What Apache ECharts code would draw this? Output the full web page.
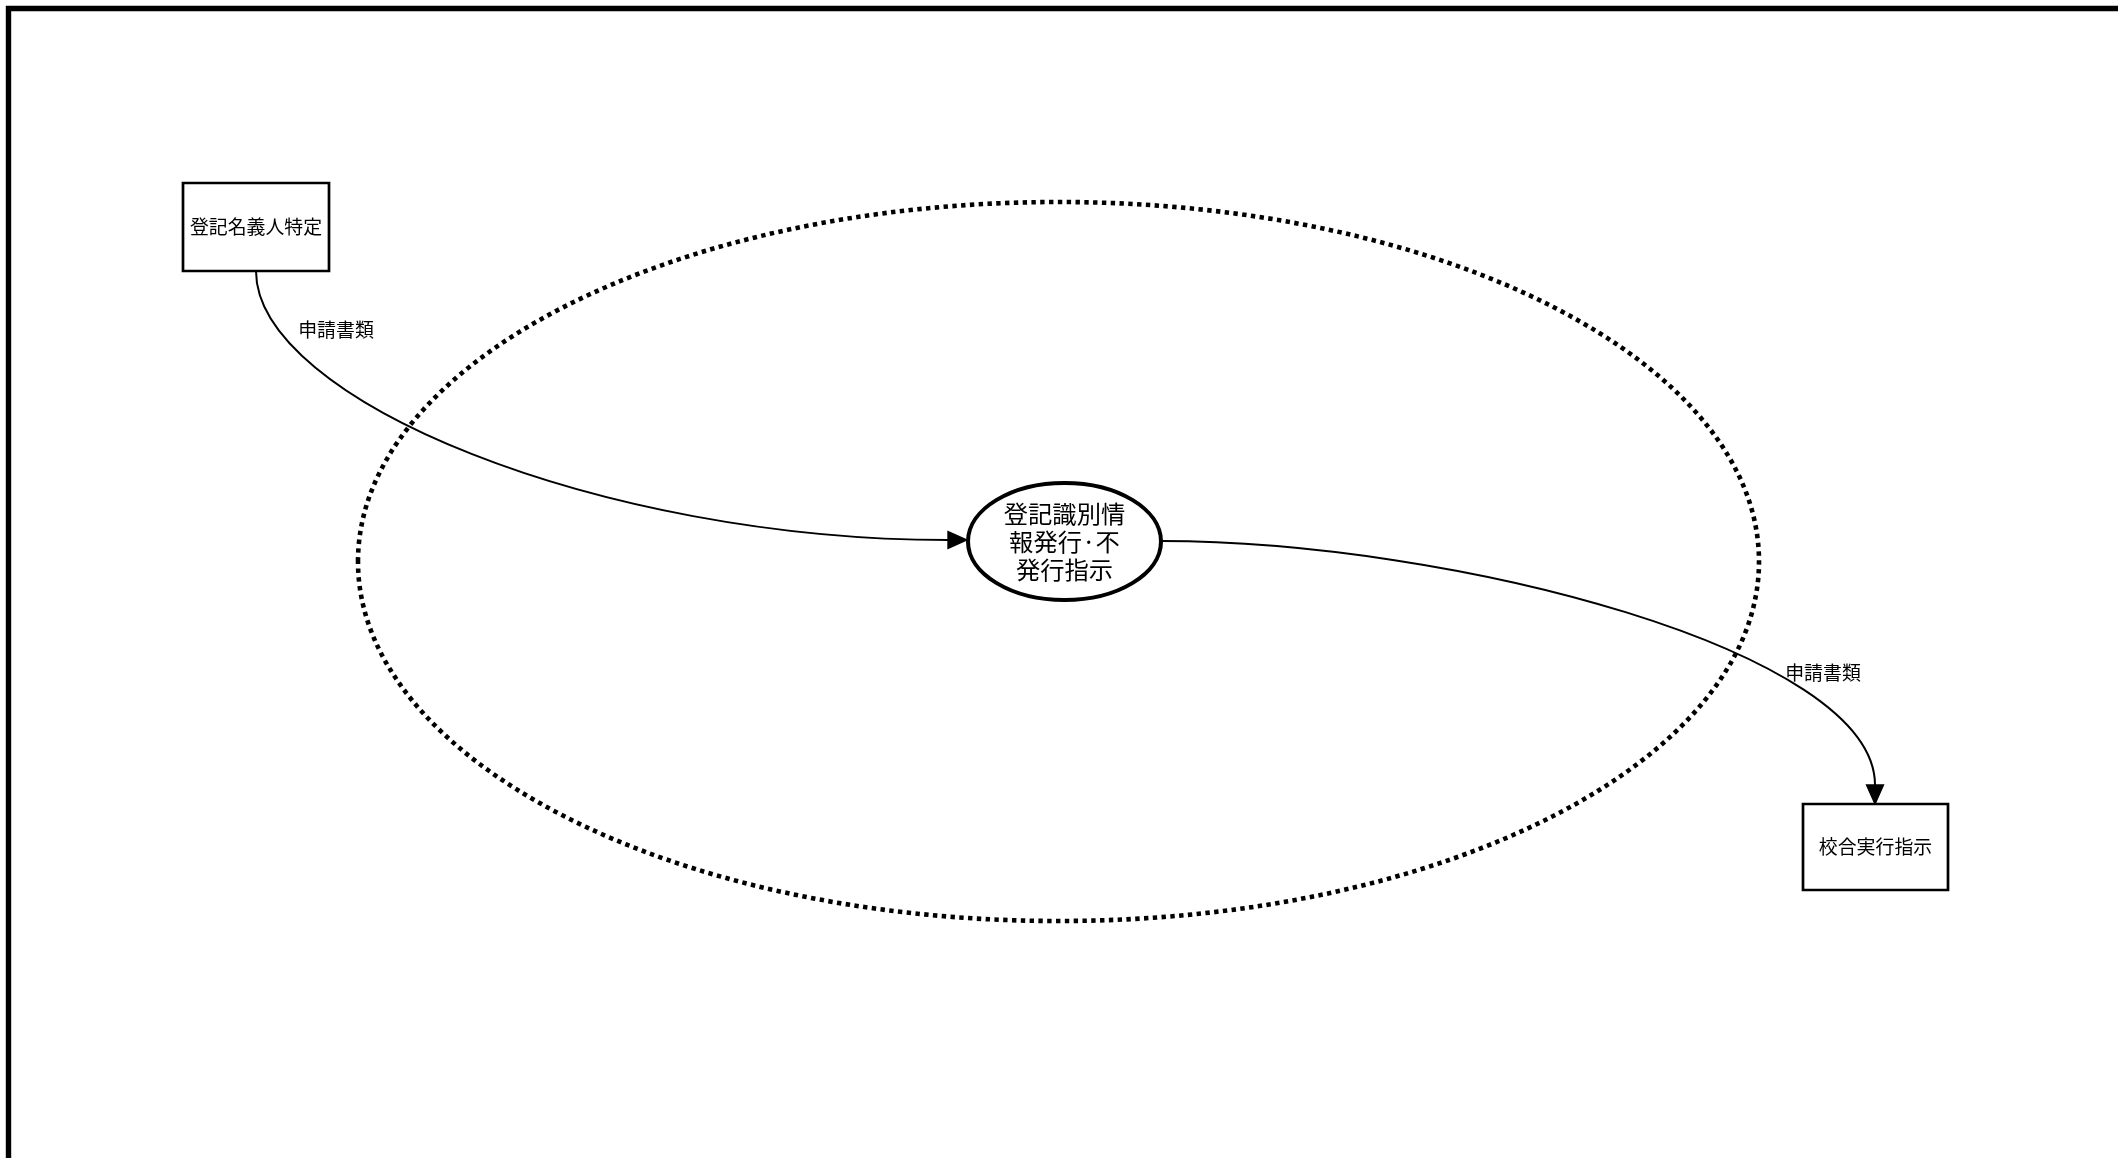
<!DOCTYPE html>
<html>
<head>
<meta charset="utf-8">
<script src="https://cdn.jsdelivr.net/npm/echarts@6/dist/echarts.min.js"></script>
<style>
  html, body { margin: 0; padding: 0; background: #ffffff; }
  #main { width: 2118px; height: 1158px; }
</style>
</head>
<body>
<div id="main"></div>
<script>
// ---- diagram data (diagram-space units, y grows downward) ----
const nodeNames   = ['登記名義人特定', '登記識別情\n報発行·不\n発行指示', '校合実行指示'];
const nodeShapes  = ['rect', 'ellipse', 'rect'];
const nodeCenters = [[256, 227], [1064.5, 541.5], [1875.5, 847]];
const nodeSizes   = [[146, 88], [193, 117], [145, 86]];

const edgeLabels    = ['申請書類', '申請書類'];
// start, control 1, control 2, arrow tip
const edgePaths     = [
  [[256, 271], [256, 400], [600, 540], [967, 540]],
  [[1161, 541], [1450, 541], [1875, 650], [1875, 804]]
];
const edgeLabelAt   = [[336, 330], [1823, 673]];

// dotted boundary ellipse: centre x, centre y, radius x, radius y
const boundaryEllipse = [[1058.5, 561.5, 700.5, 359.5]];
// outer frame: left, top, right, bottom (extends past the page)
const frameRect = [[8.5, 8.5, 2300, 1300]];

const FONT = '"Noto Sans CJK JP", "Noto Sans", sans-serif';

const chart = echarts.init(document.getElementById('main'), null, { renderer: 'canvas' });

function sub(a, b) { return [a[0] - b[0], a[1] - b[1]]; }
function norm(v) { const l = Math.hypot(v[0], v[1]) || 1; return [v[0] / l, v[1] / l]; }

const option = {
  backgroundColor: '#ffffff',
  animation: false,
  grid: { left: 0, right: 0, top: 0, bottom: 0 },
  xAxis: { type: 'value', min: 0, max: 2118, show: false },
  yAxis: { type: 'value', min: 0, max: 1158, inverse: true, show: false },
  series: [
    {
      // frame
      type: 'custom',
      coordinateSystem: 'cartesian2d',
      silent: true,
      data: frameRect.map((r, i) => [i]),
      renderItem: function (params, api) {
        const r = frameRect[api.value(0)];
        const a = api.coord([r[0], r[1]]);
        const b = api.coord([r[2], r[3]]);
        return {
          type: 'rect',
          shape: { x: a[0], y: a[1], width: b[0] - a[0], height: b[1] - a[1] },
          style: { fill: 'none', stroke: '#000', lineWidth: 5.4 }
        };
      }
    },
    {
      // dotted boundary
      type: 'custom',
      coordinateSystem: 'cartesian2d',
      silent: true,
      data: boundaryEllipse.map((e, i) => [i]),
      renderItem: function (params, api) {
        const e = boundaryEllipse[api.value(0)];
        const c = api.coord([e[0], e[1]]);
        const s = api.size([e[2], e[3]]);
        return {
          type: 'ellipse',
          shape: { cx: c[0], cy: c[1], rx: Math.abs(s[0]), ry: Math.abs(s[1]) },
          style: { fill: 'none', stroke: '#000', lineWidth: 4.6, lineDash: [4.4, 4.4], lineCap: 'butt' }
        };
      }
    },
    {
      // edges
      type: 'custom',
      coordinateSystem: 'cartesian2d',
      silent: true,
      data: edgePaths.map((p, i) => [i]),
      renderItem: function (params, api) {
        const i = api.value(0);
        const p = edgePaths[i].map(q => api.coord(q));
        const tip = p[3];
        const dir = norm(sub(p[3], p[2]));
        const len = 19, hw = 8.5;
        const base = [tip[0] - dir[0] * len, tip[1] - dir[1] * len];
        const perp = [-dir[1], dir[0]];
        const lp = api.coord(edgeLabelAt[i]);
        return {
          type: 'group',
          children: [
            {
              type: 'bezierCurve',
              shape: {
                x1: p[0][0], y1: p[0][1],
                cpx1: p[1][0], cpy1: p[1][1],
                cpx2: p[2][0], cpy2: p[2][1],
                x2: base[0], y2: base[1]
              },
              style: { fill: 'none', stroke: '#000', lineWidth: 2 }
            },
            {
              type: 'polygon',
              shape: {
                points: [
                  tip,
                  [base[0] + perp[0] * hw, base[1] + perp[1] * hw],
                  [base[0] - perp[0] * hw, base[1] - perp[1] * hw]
                ]
              },
              style: { fill: '#000', stroke: '#000', lineWidth: 1.35 }
            },
            {
              type: 'text',
              style: {
                text: edgeLabels[i],
                x: lp[0], y: lp[1],
                align: 'center', verticalAlign: 'middle',
                font: '18.9px ' + FONT,
                fill: '#000'
              }
            }
          ]
        };
      }
    },
    {
      // nodes
      type: 'custom',
      coordinateSystem: 'cartesian2d',
      silent: true,
      data: nodeNames.map((n, i) => [i]),
      renderItem: function (params, api) {
        const i = api.value(0);
        const c = api.coord(nodeCenters[i]);
        const s = api.size(nodeSizes[i]).map(Math.abs);
        let shapeEl;
        if (nodeShapes[i] === 'ellipse') {
          shapeEl = {
            type: 'ellipse',
            shape: { cx: c[0], cy: c[1], rx: s[0] / 2, ry: s[1] / 2 },
            style: { fill: '#fff', stroke: '#000', lineWidth: 4.05 }
          };
        } else {
          shapeEl = {
            type: 'rect',
            shape: { x: c[0] - s[0] / 2, y: c[1] - s[1] / 2, width: s[0], height: s[1] },
            style: { fill: '#fff', stroke: '#000', lineWidth: 2.7 }
          };
        }
        const big = nodeShapes[i] === 'ellipse';
        return {
          type: 'group',
          children: [
            shapeEl,
            {
              type: 'text',
              style: {
                text: nodeNames[i],
                x: c[0], y: c[1],
                align: 'center', verticalAlign: 'middle',
                font: (big ? '24.3px ' : '18.9px ') + FONT,
                lineHeight: big ? 28 : 22,
                fill: '#000'
              }
            }
          ]
        };
      }
    }
  ]
};

chart.setOption(option);
</script>
</body>
</html>
